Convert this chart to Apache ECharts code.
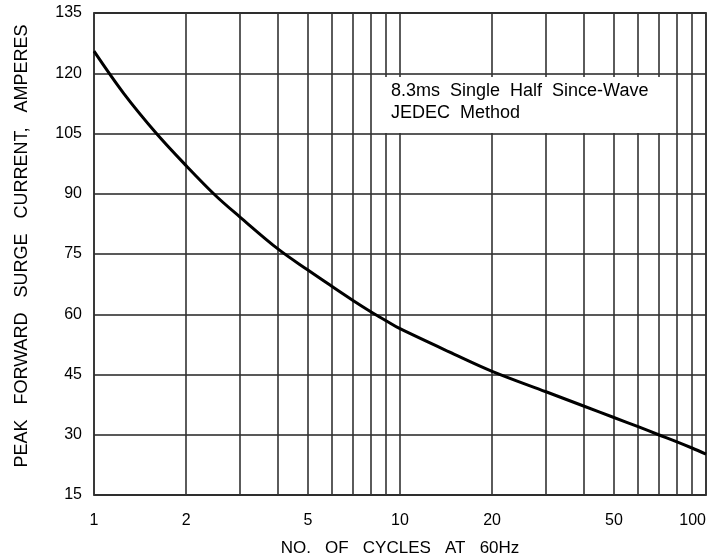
<!DOCTYPE html>
<html>
<head>
<meta charset="utf-8">
<script src="https://cdn.jsdelivr.net/npm/echarts@6/dist/echarts.min.js"></script>
<style>
html,body{margin:0;padding:0;background:#fff;}
#chart{width:727px;height:559px;}
</style>
</head>
<body>
<div id="chart"></div>
<script>
// Data
var cycles = [1, 1.25, 1.6, 2, 2.5, 3, 4, 5, 6, 7, 8, 9, 10, 15, 20, 30, 40, 50, 60, 70, 80, 90, 100];
var current = [125.5, 115, 105, 97, 89.5, 84.2, 76.2, 71, 66.9, 63.5, 60.7, 58.4, 56.4, 50.1, 45.8, 40.7, 37.1, 34.3, 32, 30, 28.3, 26.7, 25.2];
var xGridValues = [1, 2, 3, 4, 5, 6, 7, 8, 9, 10, 20, 30, 40, 50, 60, 70, 80, 90, 100];
var xTickLabels = [1, 2, 5, 10, 20, 50, 100];
var yTicks = [15, 30, 45, 60, 75, 90, 105, 120, 135];
var yAxisTitle = 'PEAK   FORWARD   SURGE   CURRENT,   AMPERES';
var xAxisTitle = 'NO.   OF   CYCLES   AT   60Hz';
var noteLines = ['8.3ms  Single  Half  Since-Wave', 'JEDEC  Method'];

var chart = echarts.init(document.getElementById('chart'));
var font = '"Liberation Sans", Arial, sans-serif';
var lineData = cycles.map(function (c, i) { return [Math.log10(c), current[i]]; });

chart.setOption({
  animation: false,
  backgroundColor: '#fff',
  grid: {
    left: 94, right: 21, top: 13, bottom: 64,
    containLabel: false,
    outerBoundsMode: 'none',
    show: true, borderColor: '#555', borderWidth: 2, backgroundColor: 'transparent'
  },
  xAxis: {
    type: 'value',
    min: 0, max: 2,
    axisLine: { show: false },
    axisTick: { show: false, customValues: xGridValues.map(function (v) { return Math.log10(v); }) },
    splitLine: { show: true, lineStyle: { color: '#333', width: 1.6 } },
    axisLabel: {
      customValues: xTickLabels.map(function (v) { return Math.log10(v); }),
      formatter: function (v) { return String(Math.round(Math.pow(10, v))); },
      fontFamily: font, fontSize: 16, color: '#000', margin: 18,
      alignMaxLabel: 'right'
    },
    name: xAxisTitle,
    nameLocation: 'middle',
    nameGap: 45,
    nameTextStyle: { fontFamily: font, fontSize: 17, color: '#000' }
  },
  yAxis: {
    type: 'value',
    min: yTicks[0], max: yTicks[yTicks.length - 1], interval: 15,
    axisLine: { show: false },
    axisTick: { show: false },
    splitLine: { show: true, lineStyle: { color: '#222', width: 1.6 } },
    axisLabel: { fontFamily: font, fontSize: 16, color: '#000', margin: 12 },
    name: yAxisTitle,
    nameLocation: 'middle',
    nameGap: 63,
    nameTextStyle: { fontFamily: font, fontSize: 18, color: '#000', padding: [0, 0, 0, 16] }
  },
  graphic: [
    {
      type: 'rect', z: 50,
      shape: { x: 384, y: 77, width: 280, height: 56 },
      style: { fill: '#fff' }
    },
    {
      type: 'text', z: 51, left: 391, top: 80,
      style: { text: noteLines.join('\n'), font: '18px ' + font, fill: '#000', lineHeight: 22 }
    }
  ],
  series: [{
    type: 'line',
    data: lineData,
    smooth: 0.35,
    showSymbol: false,
    lineStyle: { color: '#000', width: 3 },
    z: 60
  }]
});
</script>
</body>
</html>
